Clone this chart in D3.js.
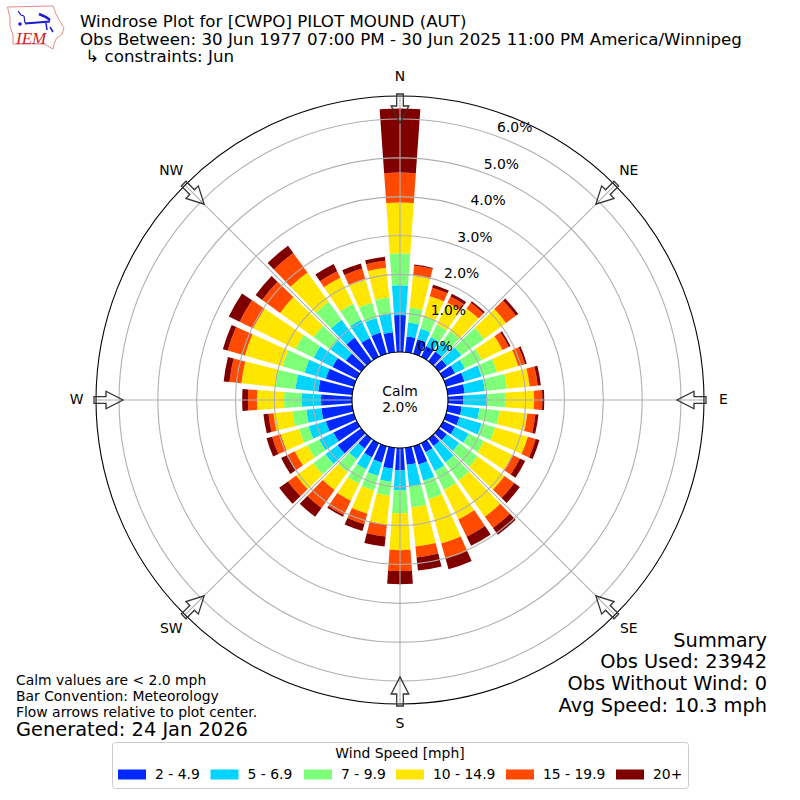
<!DOCTYPE html>
<html><head><meta charset="utf-8">
<script src="https://cdn.jsdelivr.net/npm/d3@7"></script>
<style>html,body{margin:0;padding:0;background:#fff}svg{display:block}text{font-family:"DejaVu Sans",sans-serif;fill:#000}</style>
</head><body><svg id="c" width="800" height="800"></svg>
<script>
const directions = d3.range(0, 360, 10);
const speed1 = [.95,.41,.39,.31,.31,.26,.34,.49,.44,.39,.36,.36,.34,.26,.23,.26,.49,.44,.57,.54,.44,.41,.31,.75,.67,.75,.80,.80,.88,.75,.70,.49,.75,.54,.57,.52];
const speed2 = [.77,.36,.28,.26,.31,.46,.28,.46,.52,.62,.46,.59,.39,.39,.52,.54,.44,.57,.52,.34,.36,.34,.34,.39,.41,.46,.39,.49,.59,.57,.54,.49,.57,.52,.39,.49];
const speed3 = [.82,.39,.33,.36,.34,.72,.49,.41,.57,.46,.52,.36,.44,.59,.57,.54,.49,.54,.59,.36,.39,.41,.41,.39,.34,.26,.36,.46,.52,.59,.52,.54,.57,.46,.41,.41];
const speed4 = [1.31,.82,.54,.62,.72,.70,.59,.57,.59,.75,.72,.88,.82,.85,1.16,.85,1.19,1.01,.95,.75,.62,.49,.57,.54,.36,.49,.49,.70,.88,1.01,1.21,1.06,.93,.75,.64,.77];
const speed5 = [.77,.26,.23,.18,.18,.31,.18,.18,.21,.21,.21,.21,.21,.31,.36,.49,.41,.28,.54,.31,.28,.41,.57,.26,.21,.23,.13,.23,.31,.46,.39,.57,.62,.18,.28,.18];
const speed6 = [1.65,.03,.08,.08,.05,.08,.05,.05,.08,.05,.08,.10,.15,.18,.21,.26,.28,.34,.34,.26,.18,.05,.28,.28,.18,.15,.13,.15,.15,.13,.31,.21,.23,.21,.13,.10];
const speedLabels = ["2 - 4.9","5 - 6.9","7 - 9.9","10 - 14.9","15 - 19.9","20+"];
const speedColors = ["#0028ff","#00d4ff","#7dff7a","#ffe600","#ff4a00","#800000"];
const radialTicks = [0,1,2,3,4,5,6];
const compass = ["N","NE","E","SE","S","SW","W","NW"];
const summaryLines = ["Summary","Obs Used: 23942","Obs Without Wind: 0","Avg Speed: 10.3 mph"];
const noteLines = ["Calm values are < 2.0 mph","Bar Convention: Meteorology","Flow arrows relative to plot center."];
const titleLines = ["Windrose Plot for [CWPO] PILOT MOUND (AUT)","Obs Between: 30 Jun 1977 07:00 PM - 30 Jun 2025 11:00 PM America/Winnipeg"," \u21b3 constraints: Jun"];

const svg = d3.select("#c");
const cx = 400, cy = 400, R0 = 48, Rout = 304;
const r = d3.scaleLinear().domain([0,6]).range([R0, 281]);
const theta = d3.scaleLinear().domain([0,360]).range([0, 2*Math.PI]);
const half = theta(4);
const plot = svg.append("g").attr("transform", `translate(${cx},${cy})`);

plot.append("circle").attr("r", Rout).attr("fill","#fff");

const series = [speed1,speed2,speed3,speed4,speed5,speed6];
const rows = directions.map((d,i)=>{const o={dir:d}; series.forEach((s,k)=>o["s"+k]=s[i]); return o;});
const stacked = d3.stack().keys(series.map((_,k)=>"s"+k))(rows);
const arc = d3.arc();
stacked.forEach((layer,k)=>{
  plot.append("g").selectAll("path").data(layer).join("path")
    .attr("fill", speedColors[k])
    .attr("d", d=>arc({innerRadius:r(d[0]),outerRadius:r(d[1]),startAngle:theta(d.data.dir)-half,endAngle:theta(d.data.dir)+half}));
});

const grid = plot.append("g").attr("fill","none").attr("stroke","#b0b0b0").attr("stroke-width",1.1);
grid.selectAll("circle").data(radialTicks.slice(1)).join("circle").attr("r", d=>r(d));
grid.selectAll("line").data(d3.range(0,360,45)).join("line")
  .attr("x1", d=>R0*Math.sin(theta(d))).attr("y1", d=>-R0*Math.cos(theta(d)))
  .attr("x2", d=>Rout*Math.sin(theta(d))).attr("y2", d=>-Rout*Math.cos(theta(d)));

plot.append("circle").attr("r",Rout).attr("fill","none").attr("stroke","#000").attr("stroke-width",1.1);
plot.append("circle").attr("r",R0).attr("fill","none").attr("stroke","#000").attr("stroke-width",1.1);

const arrow = "M-3.3,-306 L3.3,-306 L3.3,-294 L8.8,-294 L0,-277 L-8.8,-294 L-3.3,-294 Z";
plot.append("g").selectAll("path").data(d3.range(0,360,45)).join("path")
  .attr("d",arrow).attr("fill","none").attr("stroke","#333").attr("stroke-width",1.3)
  .attr("stroke-linejoin","miter")
  .attr("transform",d=>`rotate(${d})`);

plot.append("g").selectAll("text").data(compass).join("text")
  .attr("text-anchor","middle").attr("dominant-baseline","central").attr("font-size",13.9)
  .attr("x",(d,i)=>323.5*Math.sin(theta(i*45))).attr("y",(d,i)=>-323.5*Math.cos(theta(i*45))-1)
  .text(d=>d);

plot.append("g").selectAll("text").data(radialTicks).join("text")
  .attr("text-anchor","middle").attr("dominant-baseline","central").attr("font-size",13.9)
  .attr("x",d=>r(d)*Math.sin(theta(20))+18.6).attr("y",d=>-r(d)*Math.cos(theta(20))-8.5)
  .text(d=>d.toFixed(1)+"%");

svg.append("text").attr("x",400).attr("y",396).attr("text-anchor","middle").attr("font-size",13.9).text("Calm");
svg.append("text").attr("x",400).attr("y",412).attr("text-anchor","middle").attr("font-size",13.9).text("2.0%");

svg.append("g").selectAll("text").data(titleLines).join("text")
  .attr("x",80).attr("y",(d,i)=>27+i*17.6).attr("font-size",16.67).attr("xml:space","preserve")
  .style("white-space","pre").text(d=>d);

const logo = svg.append("g");
logo.append("path").attr("d","M7.5,7 L53,6 L56,14 L59,20 L64,28 L62,34 L56,39 L54,44 L53,49 L44,44 L13,44 L13,35 L10,26 L10,18 Z")
  .attr("fill","none").attr("stroke","#e88a8a").attr("stroke-width",1);
logo.append("g").attr("fill","none").attr("stroke","#1a1ad0").call(g=>{
  g.append("path").attr("d","M25,23.5 L50,21.5").attr("stroke-width",2);
  g.append("path").attr("d","M18,11 L21,15 L24,16 M24,16 L25,23").attr("stroke-width",1.2);
  g.append("path").attr("d","M39,14 L46,17 L50,20").attr("stroke-width",2.5);
  g.append("path").attr("d","M46,23 L47,30 M50,27 L53,32").attr("stroke-width",1.5);
});
logo.append("circle").attr("cx",20).attr("cy",24).attr("r",1.8).attr("fill","#1a1ad0");
logo.append("text").attr("x",16).attr("y",44).attr("font-size",17).attr("font-style","italic")
  .style("font-family","'Liberation Serif',serif").style("fill","#d02020").text("IEM");

svg.append("g").selectAll("text").data(summaryLines).join("text")
  .attr("x",767).attr("y",(d,i)=>646.5+i*21.7).attr("text-anchor","end").attr("font-size",19.4).text(d=>d);

svg.append("g").selectAll("text").data(noteLines).join("text")
  .attr("x",16).attr("y",(d,i)=>685+i*16).attr("font-size",13.9).text(d=>d);
svg.append("text").attr("x",16).attr("y",736).attr("font-size",19.4).text("Generated: 24 Jan 2026");

const lg = svg.append("g");
lg.append("rect").attr("x",112.5).attr("y",742.5).attr("width",576).attr("height",46).attr("rx",3)
  .attr("fill","#fff").attr("stroke","#ccc").attr("stroke-width",1);
lg.append("text").attr("x",400).attr("y",758).attr("text-anchor","middle").attr("font-size",13.9).text("Wind Speed [mph]");
const swatchX = [118,210.5,304,396,506,616];
lg.selectAll("rect.s").data(speedLabels).join("rect").attr("class","s")
  .attr("x",(d,i)=>swatchX[i]).attr("y",769.5).attr("width",28).attr("height",10)
  .attr("fill",(d,i)=>speedColors[i]);
lg.selectAll("text.l").data(speedLabels).join("text").attr("class","l")
  .attr("x",(d,i)=>swatchX[i]+37).attr("y",779).attr("font-size",13.9).text(d=>d);
</script></body></html>
